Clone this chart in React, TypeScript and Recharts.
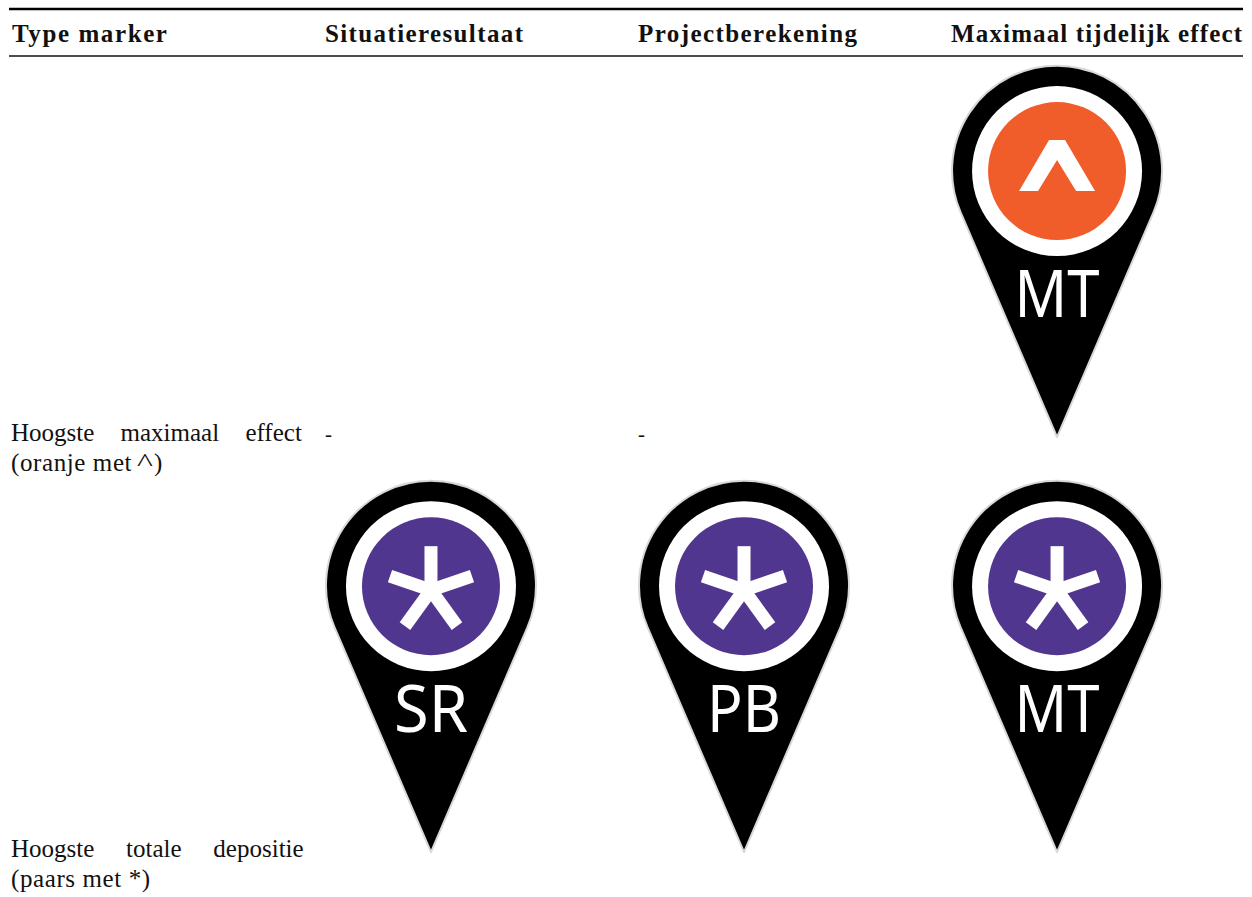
import { ScatterChart, Scatter, XAxis, YAxis } from 'recharts';

const columns = ['Type marker', 'Situatieresultaat', 'Projectberekening', 'Maximaal tijdelijk effect'];
const columnIndex = [0, 1, 2, 3];
const rowIndex = [0, 1];
const rowFirstLines = ['Hoogste maximaal effect', 'Hoogste totale depositie'];
const rowSecondLines = ['(oranje met', '(paars met *)'];

// col / row / code per pin
const orangeCols = [3];
const orangeRows = [0];
const orangeCodes = ['MT'];
const purpleCols = [1, 2, 3];
const purpleRows = [1, 1, 1];
const purpleCodes = ['SR', 'PB', 'MT'];
const dashCols = [1, 2];
const dashRows = [0, 0];

const orangeData = orangeCols.map((col, i) => ({ col, row: orangeRows[i], code: orangeCodes[i] }));
const purpleData = purpleCols.map((col, i) => ({ col, row: purpleRows[i], code: purpleCodes[i] }));
const dashData = dashCols.map((col, i) => ({ col, row: dashRows[i] }));

const SERIF = '"Liberation Serif", serif';
const COL_TEXT_DX = -106;
const HEADER_WIDTHS = [155, 198, 219, 291];
const WORD_SPACING = [20, 25.5];

const PIN_PATH = 'M0,0 L-96.5,-225 A105,105 0 1 1 96.5,-225 Z';

function Pin({ cx, cy, payload, color, glyph }: any) {
    return (
        <g transform={`translate(${cx},${cy})`} style={{ filter: 'blur(0.6px)' }}>
            <path d={PIN_PATH} fill="#000" stroke="#d8d8d8" strokeWidth={2} strokeLinejoin="round" />
            <circle cx={0} cy={-266} r={85} fill="#fff" />
            <circle cx={0} cy={-266} r={69} fill={color} />
            {glyph === 'caret' ? (
                <polygon points="-8,-297 8,-297 38,-246 19,-246 0,-277 -19,-246 -38,-246" fill="#fff" />
            ) : (
                <g stroke="#fff" strokeWidth={13}>
                    <line x1={0} y1={-262} x2={0} y2={-306} />
                    <line x1={0} y1={-262} x2={41} y2={-276} />
                    <line x1={0} y1={-262} x2={-41} y2={-276} />
                    <line x1={0} y1={-262} x2={26} y2={-226} />
                    <line x1={0} y1={-262} x2={-26} y2={-226} />
                </g>
            )}
            <text
                x={0}
                y={-120}
                textAnchor="middle"
                fill="#fff"
                fontFamily='"Noto Sans", sans-serif'
                fontSize={65}
                textLength={payload.code === 'MT' ? 85 : 74}
                lengthAdjust="spacingAndGlyphs"
            >
                {payload.code}
            </text>
        </g>
    );
}

function Dash({ cx, cy }: any) {
    return (
        <text x={cx + COL_TEXT_DX} y={cy + 4} fontFamily={SERIF} fontSize={21} fill="#111">
            -
        </text>
    );
}

function HeaderTick({ x, y, payload }: any) {
    const i = payload.value;
    return (
        <text
            x={x + COL_TEXT_DX}
            y={y}
            fontFamily={SERIF}
            fontWeight={700}
            fontSize={25}
            fill="#111"
            textLength={HEADER_WIDTHS[i]}
            lengthAdjust="spacing"
        >
            {columns[i]}
        </text>
    );
}

function RowTick({ y, payload }: any) {
    const i = payload.value;
    const second = y + 34 + i;
    return (
        <g fontFamily={SERIF} fontSize={25} fill="#111">
            <text x={11} y={y + 4 + i} style={{ wordSpacing: WORD_SPACING[i] }}>
                {rowFirstLines[i]}
            </text>
            <text x={11} y={second} letterSpacing={0.6}>
                {rowSecondLines[i]}
            </text>
            {i === 0 && (
                <>
                    {/* wide hat, the font has no matching glyph */}
                    <text transform={`translate(137,${second}) scale(1.35,1)`}>^</text>
                    <text x={154} y={second}>)</text>
                </>
            )}
        </g>
    );
}

export default function App() {
    return (
        <div style={{ position: 'absolute', left: 0, top: 0, background: '#fff' }}>
            <ScatterChart width={1252} height={897} margin={{ top: 8, right: 9, bottom: 0, left: 8 }}>
                <XAxis
                    xAxisId="cols"
                    type="number"
                    dataKey="col"
                    orientation="top"
                    height={47}
                    domain={[-0.348, 3.594]}
                    allowDataOverflow
                    ticks={columnIndex}
                    interval={0}
                    tick={<HeaderTick />}
                    tickLine={false}
                    tickSize={0}
                    tickMargin={14}
                    axisLine={{ stroke: '#111', strokeWidth: 1.3 }}
                />
                <XAxis
                    xAxisId="rule"
                    type="number"
                    orientation="top"
                    height={1}
                    domain={[0, 1]}
                    ticks={[]}
                    tickLine={false}
                    axisLine={{ stroke: '#000', strokeWidth: 2.6 }}
                />
                <YAxis
                    type="number"
                    dataKey="row"
                    width={1}
                    reversed
                    domain={[-0.918, 1.108]}
                    allowDataOverflow
                    ticks={rowIndex}
                    interval={0}
                    tick={<RowTick />}
                    tickLine={false}
                    axisLine={false}
                />
                <Scatter
                    xAxisId="cols"
                    data={orangeData}
                    isAnimationActive={false}
                    shape={(p: any) => <Pin {...p} color="#f15d2a" glyph="caret" />}
                />
                <Scatter
                    xAxisId="cols"
                    data={purpleData}
                    isAnimationActive={false}
                    shape={(p: any) => <Pin {...p} color="#50368e" glyph="star" />}
                />
                <Scatter xAxisId="cols" data={dashData} isAnimationActive={false} shape={(p: any) => <Dash {...p} />} />
            </ScatterChart>
        </div>
    );
}
